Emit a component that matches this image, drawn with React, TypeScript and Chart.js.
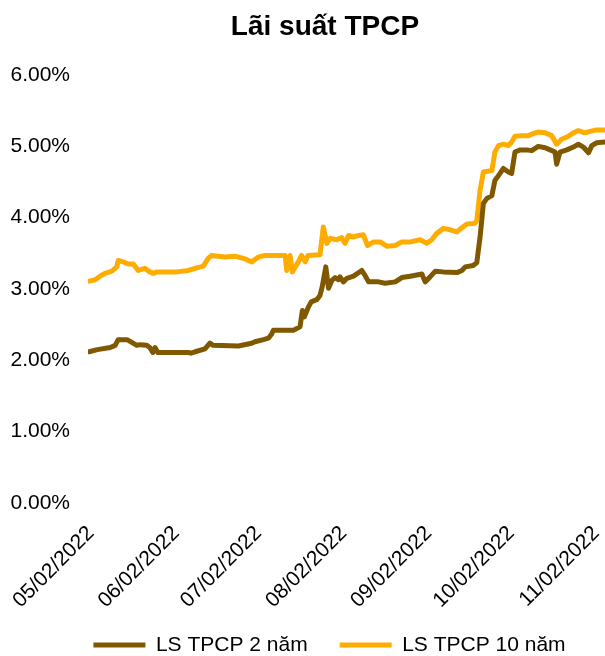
import { useEffect, useRef } from 'react';
import { Chart, registerables } from 'chart.js';

Chart.register(...registerables);

const TITLE = 'Lãi suất TPCP';
const SERIES_NAMES = ['LS TPCP 2 năm', 'LS TPCP 10 năm'];
const SERIES_COLORS = ['#805800', '#FFAC00'];

// x ticks: days since 05/02/2022
const TICK_DAYS = [0, 31, 61, 92, 123, 153, 184];
const TICK_LABELS = ['05/02/2022', '06/02/2022', '07/02/2022', '08/02/2022', '09/02/2022', '10/02/2022', '11/02/2022'];
const X_MIN_DAY = -1.1;
const X_MAX_DAY = 187.2;

// y ticks in percent
const Y_MIN = 0;
const Y_MAX = 6;
const Y_STEP = 1;

// LS TPCP 2 năm (x = days since 05/02/2022, y = %)
const days2Y = [-0.7, 2.3, 7.0, 8.8, 9.9, 13.1, 13.6, 16.7, 17.8, 20.3, 21.4, 22.5, 23.3, 24.3, 35.4, 36.4, 37.9, 41.5, 43.3, 44.5, 53.7, 58.5, 59.7, 62.8, 64.6, 65.8, 66.4, 73.7, 76.1, 77.0, 77.7, 79.2, 80.2, 82.2, 83.4, 84.2, 85.5, 86.5, 87.7, 88.9, 90.1, 90.7, 91.9, 93.2, 95.6, 98.6, 99.8, 101.1, 104.7, 107.1, 110.8, 113.2, 116.3, 120.5, 121.7, 123.5, 125.4, 128.3, 133.3, 135.1, 136.3, 139.2, 140.5, 141.7, 142.9, 144.2, 146.0, 147.1, 148.4, 150.2, 152.0, 153.2, 154.4, 156.3, 158.7, 160.5, 162.9, 165.4, 167.2, 169.0, 169.6, 170.8, 173.3, 175.7, 177.5, 179.3, 181.2, 182.4, 184.2, 187.2];
const values2Y = [2.12, 2.15, 2.18, 2.21, 2.29, 2.29, 2.28, 2.21, 2.22, 2.21, 2.18, 2.11, 2.18, 2.11, 2.11, 2.10, 2.12, 2.16, 2.24, 2.21, 2.20, 2.24, 2.26, 2.29, 2.31, 2.37, 2.42, 2.42, 2.47, 2.70, 2.61, 2.75, 2.82, 2.85, 2.91, 3.03, 3.31, 3.01, 3.12, 3.16, 3.13, 3.17, 3.10, 3.15, 3.18, 3.26, 3.19, 3.10, 3.10, 3.08, 3.10, 3.16, 3.18, 3.21, 3.10, 3.17, 3.25, 3.24, 3.23, 3.26, 3.31, 3.33, 3.37, 3.73, 4.20, 4.27, 4.31, 4.52, 4.59, 4.69, 4.64, 4.62, 4.92, 4.95, 4.95, 4.94, 5.00, 4.98, 4.95, 4.92, 4.75, 4.92, 4.95, 4.99, 5.03, 4.99, 4.91, 5.01, 5.05, 5.06];

// LS TPCP 10 năm (x = days since 05/02/2022, y = %)
const days10Y = [-0.7, 1.5, 3.3, 5.1, 7.6, 9.4, 9.9, 11.7, 13.6, 15.4, 17.2, 19.6, 21.4, 22.7, 24.0, 31.3, 35.4, 37.9, 40.9, 42.7, 43.9, 46.4, 48.8, 52.4, 55.5, 58.5, 61.0, 63.4, 70.7, 71.3, 72.5, 73.3, 75.5, 76.7, 78.0, 79.0, 83.4, 84.6, 85.9, 87.1, 89.5, 91.3, 92.5, 93.8, 95.6, 97.4, 99.2, 100.7, 102.9, 105.3, 107.7, 110.8, 113.2, 116.3, 119.9, 122.3, 124.1, 125.9, 128.4, 130.8, 133.3, 135.1, 136.9, 139.8, 140.5, 141.7, 142.9, 146.0, 147.1, 148.4, 150.2, 152.0, 153.2, 154.4, 156.9, 159.3, 161.1, 162.9, 165.4, 167.8, 169.6, 171.4, 173.3, 175.7, 177.5, 179.9, 181.8, 184.2, 187.2];
const values10Y = [3.11, 3.13, 3.18, 3.22, 3.25, 3.31, 3.40, 3.38, 3.35, 3.35, 3.26, 3.29, 3.24, 3.22, 3.24, 3.24, 3.26, 3.29, 3.32, 3.43, 3.47, 3.46, 3.45, 3.46, 3.43, 3.38, 3.45, 3.47, 3.47, 3.26, 3.47, 3.24, 3.38, 3.47, 3.38, 3.47, 3.48, 3.87, 3.64, 3.71, 3.69, 3.72, 3.64, 3.75, 3.73, 3.75, 3.76, 3.61, 3.66, 3.66, 3.60, 3.61, 3.66, 3.66, 3.69, 3.64, 3.69, 3.78, 3.85, 3.83, 3.80, 3.86, 3.91, 3.92, 3.96, 4.38, 4.64, 4.66, 4.92, 5.01, 5.03, 5.01, 5.06, 5.14, 5.15, 5.15, 5.18, 5.20, 5.19, 5.15, 5.03, 5.10, 5.13, 5.19, 5.22, 5.19, 5.21, 5.23, 5.23];

const FONT_FAMILY = 'Arial, "Liberation Sans", sans-serif';
const FONT_SIZE = 21;
const LEGEND_PADDING = 32;
const LEGEND_HEIGHT = FONT_SIZE + LEGEND_PADDING + 10;
const CANVAS_W = 605;
const CANVAS_H = 656;
const PLOT_LEFT = 88;
const PLOT_BOTTOM = 503;
const LAYOUT_LEFT = 10;
const X_AXIS_HEIGHT = 112;

function toPoints(xs: number[], ys: number[]) {
  return xs.map((x, i) => ({ x, y: ys[i] }));
}

export default function App() {
  const canvasRef = useRef<HTMLCanvasElement | null>(null);

  useEffect(() => {
    document.body.style.margin = '0';
    const canvas = canvasRef.current;
    if (!canvas) return;

    const titlePlugin = {
      id: 'customTitle',
      afterLayout(chart: any) {
        const lg = chart.legend;
        if (lg) {
          const dx = 22;
          const dy = 645 - (lg.top + LEGEND_PADDING + FONT_SIZE / 2);
          lg.left += dx;
          lg.right += dx;
          lg.top += dy;
          lg.bottom += dy;
        }
      },
      afterDraw(chart: any) {
        const ctx = chart.ctx;
        ctx.save();
        ctx.font = `bold 28px ${FONT_FAMILY}`;
        ctx.fillStyle = '#000';
        ctx.textAlign = 'center';
        ctx.textBaseline = 'alphabetic';
        ctx.fillText(TITLE, 325, 35);
        ctx.restore();
      },
    };

    const makeDataset = (label: string, xs: number[], ys: number[], color: string) => ({
      label,
      data: toPoints(xs, ys),
      borderColor: color,
      backgroundColor: color,
      borderWidth: 5,
      pointRadius: 0,
      pointHoverRadius: 0,
      tension: 0,
      fill: false,
      borderJoinStyle: 'round',
      borderCapStyle: 'round',
    });

    const chart = new Chart(canvas, {
      type: 'line',
      data: {
        datasets: [
          makeDataset(SERIES_NAMES[0], days2Y, values2Y, SERIES_COLORS[0]),
          makeDataset(SERIES_NAMES[1], days10Y, values10Y, SERIES_COLORS[1]),
        ],
      },
      options: {
        responsive: false,
        animation: false,
        devicePixelRatio: 1,
        layout: {
          padding: {
            top: 75,
            left: LAYOUT_LEFT,
            right: 0,
            bottom: CANVAS_H - PLOT_BOTTOM - X_AXIS_HEIGHT - LEGEND_HEIGHT,
          },
        },
        plugins: {
          title: { display: false },
          tooltip: { enabled: false },
          legend: {
            display: true,
            position: 'bottom',
            labels: {
              usePointStyle: true,
              pointStyle: 'line',
              pointStyleWidth: 52,
              boxHeight: FONT_SIZE,
              padding: LEGEND_PADDING,
              color: '#000',
              font: { family: FONT_FAMILY, size: FONT_SIZE },
            },
          },
        },
        scales: {
          x: {
            type: 'linear',
            min: X_MIN_DAY,
            max: X_MAX_DAY,
            grid: { display: false, drawTicks: false },
            border: { display: false },
            afterBuildTicks: (axis: any) => {
              axis.ticks = TICK_DAYS.map((v) => ({ value: v }));
            },
            afterFit: (axis: any) => {
              axis.paddingLeft = 0;
              axis.paddingRight = 0;
              axis.height = X_AXIS_HEIGHT;
            },
            ticks: {
              autoSkip: false,
              minRotation: 45,
              maxRotation: 45,
              padding: 18,
              color: '#000',
              font: { family: FONT_FAMILY, size: FONT_SIZE },
              callback: (value: any) => {
                const idx = TICK_DAYS.indexOf(Number(value));
                return idx >= 0 ? TICK_LABELS[idx] : '';
              },
            },
          },
          y: {
            min: Y_MIN,
            max: Y_MAX,
            grid: { display: false, drawTicks: false },
            border: { display: false },
            afterFit: (axis: any) => {
              axis.width = PLOT_LEFT - LAYOUT_LEFT;
            },
            ticks: {
              stepSize: Y_STEP,
              padding: 18,
              color: '#000',
              font: { family: FONT_FAMILY, size: FONT_SIZE },
              callback: (value: any) => Number(value).toFixed(2) + '%',
            },
          },
        },
      },
      plugins: [titlePlugin],
    } as any);

    return () => chart.destroy();
  }, []);

  return (
    <div style={{ width: CANVAS_W, height: CANVAS_H }}>
      <canvas ref={canvasRef} width={CANVAS_W} height={CANVAS_H} style={{ display: 'block' }} />
    </div>
  );
}
